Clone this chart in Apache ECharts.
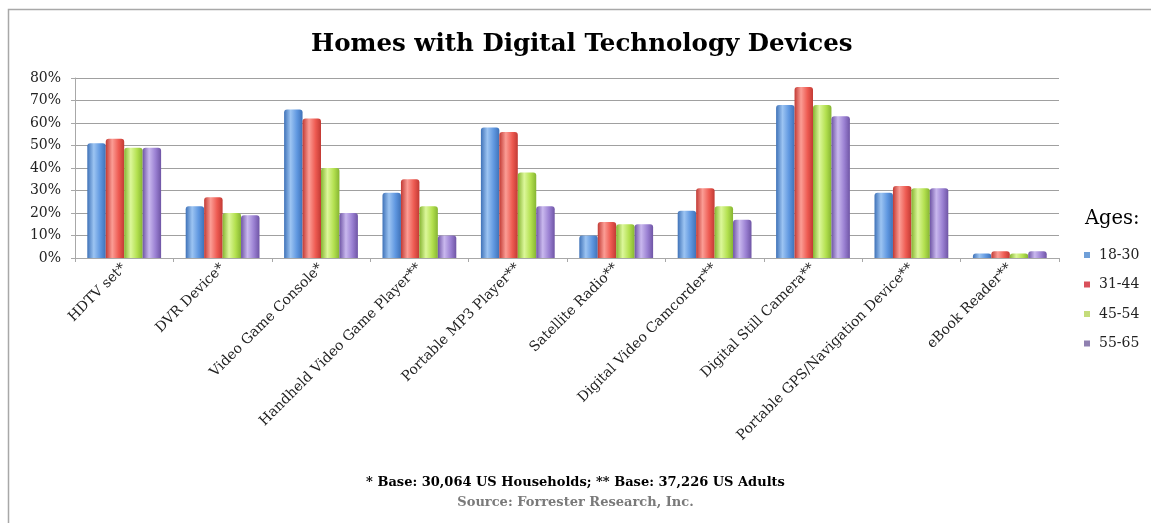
<!DOCTYPE html>
<html>
<head>
<meta charset="utf-8">
<script src="https://cdn.jsdelivr.net/npm/echarts@6/dist/echarts.min.js"></script>
<style>
  html, body { margin: 0; padding: 0; background: #ffffff; }
  #chart { width: 1151px; height: 523px; }
</style>
</head>
<body>
<div id="chart"></div>
<script>
// Device categories (asterisks mark the survey base, see footnote)
const categories = [
  'HDTV set*', 'DVR Device*', 'Video Game Console*', 'Handheld Video Game Player**',
  'Portable MP3 Player**', 'Satellite Radio**', 'Digital Video Camcorder**',
  'Digital Still Camera**', 'Portable GPS/Navigation Device**', 'eBook Reader**'
];

// Share of homes owning each device, by age band (percent)
const ages18to30 = [51, 23, 66, 29, 58, 10, 21, 68, 29, 2];
const ages31to44 = [53, 27, 62, 35, 56, 16, 31, 76, 32, 3];
const ages45to54 = [49, 20, 40, 23, 38, 15, 23, 68, 31, 2];
const ages55to65 = [49, 19, 20, 10, 23, 15, 17, 63, 31, 3];

const seriesNames = ['18-30', '31-44', '45-54', '55-65'];
const yTicks = [0, 10, 20, 30, 40, 50, 60, 70, 80];

const serif = '"DejaVu Serif", "Liberation Serif", serif';

// Cylinder-like shading for each bar colour
function shade(dark, light, mid) {
  return new echarts.graphic.LinearGradient(0, 0, 1, 0, [
    { offset: 0, color: dark },
    { offset: 0.35, color: light },
    { offset: 0.7, color: mid },
    { offset: 1, color: dark }
  ]);
}
const fills = [
  shade('#3f72b8', '#9cc4f2', '#5f97e0'),
  shade('#c23a34', '#fb9d95', '#ee5b52'),
  shade('#86b532', '#dcf79a', '#b3e04f'),
  shade('#6f55a5', '#c9b8ee', '#9a80d2')
];
const legendColors = ['#6f9fd8', '#d9505a', '#c4dc7a', '#8f80b0'];

const values = [ages18to30, ages31to44, ages45to54, ages55to65];

const chart = echarts.init(document.getElementById('chart'));
chart.setOption({
  animation: false,
  backgroundColor: '#ffffff',
  title: [
    {
      text: 'Homes with Digital Technology Devices',
      left: 311,
      top: 32,
      padding: 0,
      textStyle: { fontFamily: serif, fontWeight: 'bold', fontSize: 24.5, color: '#000' }
    },
    {
      text: 'Ages:',
      left: 1085,
      top: 209,
      padding: 0,
      textStyle: { fontFamily: serif, fontWeight: 'normal', fontSize: 19.5, color: '#000' }
    }
  ],
  legend: {
    orient: 'vertical',
    left: 1084,
    top: 248,
    padding: 0,
    itemWidth: 6,
    itemHeight: 6,
    itemGap: 15.5,
    icon: 'rect',
    data: seriesNames.map((n, i) => ({ name: n, itemStyle: { color: legendColors[i] } })),
    textStyle: { fontFamily: serif, fontSize: 14, color: '#222', padding: [0, 0, 0, 4] }
  },
  grid: { left: 75, right: 92, top: 78, bottom: 265, containLabel: false },
  xAxis: {
    type: 'category',
    data: categories,
    axisLine: { lineStyle: { color: '#a8a8a8' } },
    axisTick: { show: true, length: 4, lineStyle: { color: '#a8a8a8' } },
    axisLabel: {
      rotate: 45,
      interval: 0,
      margin: 8,
      fontFamily: serif,
      fontSize: 14,
      color: '#222'
    }
  },
  yAxis: {
    type: 'value',
    min: 0,
    max: 80,
    interval: 10,
    axisLine: { show: true, lineStyle: { color: '#a8a8a8' } },
    axisTick: { show: true, length: 4, lineStyle: { color: '#a8a8a8' } },
    splitLine: { lineStyle: { color: '#a0a0a0', width: 1 } },
    axisLabel: {
      formatter: v => yTicks.includes(v) ? v + '%' : '',
      fontFamily: serif,
      fontSize: 14,
      color: '#222',
      margin: 14
    }
  },
  series: seriesNames.map((name, i) => ({
    name: name,
    type: 'bar',
    data: values[i],
    barGap: '0%',
    barCategoryGap: '25%',
    itemStyle: { color: fills[i], borderRadius: [3, 3, 0, 0] }
  })),
  graphic: [
    {
      type: 'rect',
      shape: { x: 8.5, y: 9.5, width: 1160, height: 530 },
      style: { fill: 'none', stroke: '#a8a8a8', lineWidth: 1.5 },
      silent: true
    },
    {
      type: 'text',
      left: 'center',
      top: 476,
      style: {
        text: '* Base: 30,064 US Households; ** Base: 37,226 US Adults',
        font: 'bold 13px ' + serif,
        fill: '#000'
      }
    },
    {
      type: 'text',
      left: 'center',
      top: 496,
      style: {
        text: 'Source: Forrester Research, Inc.',
        font: 'bold 13px ' + serif,
        fill: '#7a7a7a'
      }
    }
  ]
});
</script>
</body>
</html>
